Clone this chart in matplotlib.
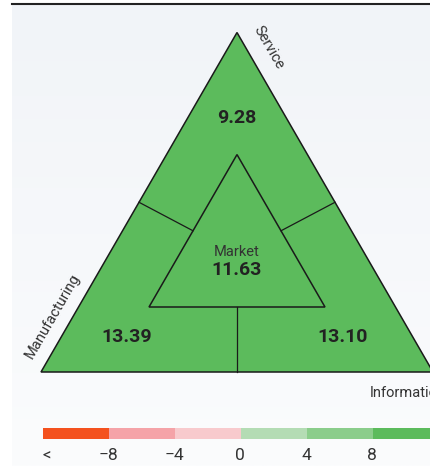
import numpy as np
import matplotlib.pyplot as plt
from matplotlib.patches import Polygon, Rectangle

plt.rcParams['font.family'] = ['Roboto', 'DejaVu Sans']

# data
sectors = ['Service', 'Manufacturing', 'Information']
sector_values = [9.28, 13.39, 13.10]
market_label = 'Market'
market_value = 11.63
bin_edges = [-8, -4, 0, 4, 8]
bin_colors = ['#f4511e', '#f5a3a8', '#f8cacd', '#b4dcb4', '#8bcd8b', '#5cbb5c']
tick_labels = ['<', '\u22128', '\u22124', '0', '4', '8', '>']


def value_color(v):
    idx = np.searchsorted(bin_edges, v, side='right')
    return bin_colors[idx]


W, H = 431, 466
fig = plt.figure(figsize=(W / 100, H / 100), dpi=100)
fig.patch.set_facecolor('white')
ax = fig.add_axes([0, 0, 1, 1])
ax.set_xlim(0, W)
ax.set_ylim(H, 0)
ax.axis('off')

# panel background with soft vertical gradient
grad = np.linspace(0, 1, 200).reshape(-1, 1)
bg = np.array([0xf1, 0xf4, 0xf8]) / 255 * (1 - grad[..., None]) + np.array([0xfb, 0xfc, 0xfd]) / 255 * grad[..., None]
ax.imshow(bg, extent=(12, W, H, 3), aspect='auto', zorder=0)
ax.plot([12, W], [3.5, 3.5], color='#222222', lw=1.5, zorder=1)

# triangle geometry (pixel space)
cx, base_y, half = 237, 372, 196
outer = np.array([[cx, base_y - half * np.sqrt(3)], [cx - half, base_y], [cx + half, base_y]])
ihalf, ibase = 88, 307
inner = np.array([[cx, ibase - ihalf * np.sqrt(3)], [cx - ihalf, ibase], [cx + ihalf, ibase]])

lc = '#1a1a1a'
ax.add_patch(Polygon(outer, closed=True, facecolor=value_color(np.mean(sector_values)),
                     edgecolor=lc, lw=1.1, zorder=2))
ax.add_patch(Polygon(inner, closed=True, facecolor=value_color(market_value),
                     edgecolor=lc, lw=1.1, zorder=3))

# divider lines between edge midpoints
for a, b in [(0, 1), (0, 2), (1, 2)]:
    om = (outer[a] + outer[b]) / 2
    im = (inner[a] + inner[b]) / 2
    ax.plot([om[0], im[0]], [om[1], im[1]], color=lc, lw=0.9, zorder=4)

# values
val_pos = [(cx, 118), (127, 337), (343, 337)]
for (x, y), v in zip(val_pos, sector_values):
    ax.text(x, y, f'{v:.2f}', ha='center', va='center', fontsize=14,
            fontweight='bold', color='#222222', zorder=5)
ax.text(cx, 252, market_label, ha='center', va='center', fontsize=10.5, color='#333333', zorder=5)
ax.text(cx, 270, f'{market_value:.2f}', ha='center', va='center', fontsize=14,
        fontweight='bold', color='#222222', zorder=5)

# sector labels
ax.text(269, 48, sectors[0], rotation=-60, ha='center', va='center', fontsize=10.5, color='#333333')
ax.text(53, 316, sectors[1], rotation=60, ha='center', va='center', fontsize=10.5, color='#333333')
ax.text(370, 393, sectors[2], ha='left', va='center', fontsize=10.5, color='#333333')

# color legend
seg_w = 66
x0 = 43
for i, c in enumerate(bin_colors):
    ax.add_patch(Rectangle((x0 + i * seg_w, 428), seg_w, 11, facecolor=c, edgecolor='none', zorder=2))
ax.text(x0 + 4, 456, tick_labels[0], ha='center', va='center', fontsize=12, color='#333333')
for i, lab in enumerate(tick_labels[1:-1]):
    ax.text(x0 + (i + 1) * seg_w - 1, 456, lab, ha='center', va='center', fontsize=12.5, color='#333333')
ax.text(x0 + 6 * seg_w - 2, 456, tick_labels[-1], ha='center', va='center', fontsize=12, color='#333333')

fig.savefig('out.png', dpi=100)
